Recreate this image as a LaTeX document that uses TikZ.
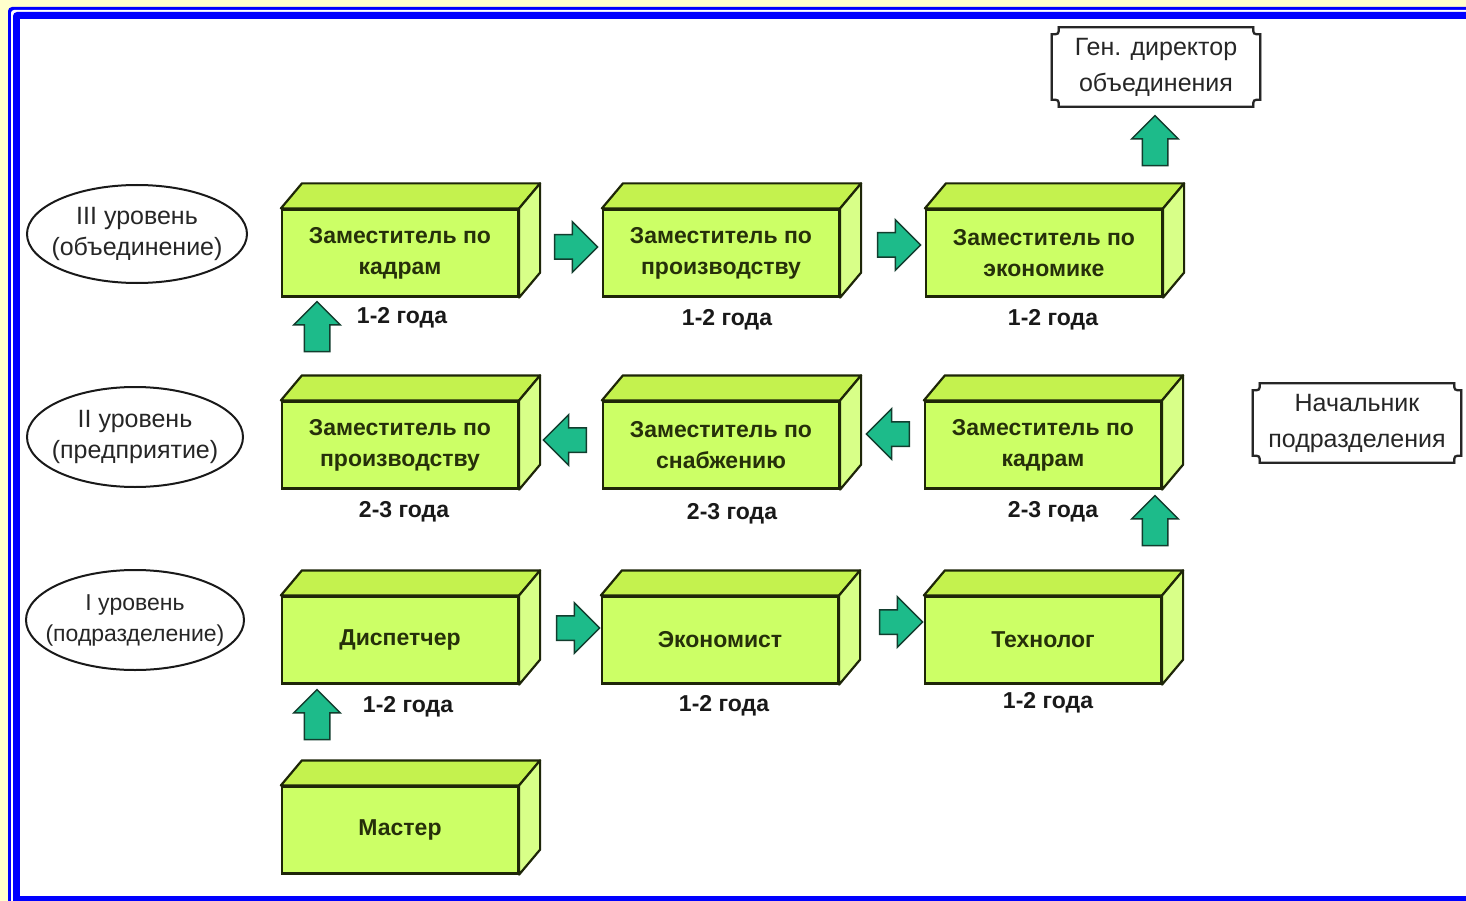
\documentclass[tikz,border=0pt]{standalone}
\usepackage{fontspec}
\setmainfont{Liberation Sans}
\usetikzlibrary{shapes.geometric,shapes.arrows}

\definecolor{bgyellow}{HTML}{FFFFCC}
\definecolor{frameblue}{HTML}{0000FF}
\definecolor{cubefront}{HTML}{CCFF66}
\definecolor{cubetop}{HTML}{C4F24E}
\definecolor{cubeside}{HTML}{D8FF88}
\definecolor{cubeedge}{HTML}{1E2608}
\definecolor{cubetext}{HTML}{26300A}
\definecolor{arrowfill}{HTML}{1DBB8A}
\definecolor{arrowline}{HTML}{123D2E}

\tikzset{
  cube/.style={draw=cubeedge, line width=2.2pt, fill=cubefront,
    minimum width=236pt, minimum height=87pt, align=center, inner sep=0pt,
    text=cubetext, font=\bfseries\fontsize{23}{31}\selectfont},
  period/.style={text=black!90, font=\bfseries\fontsize{23}{30}\selectfont, inner sep=0pt},
  level/.style={align=center, inner sep=0pt, text=black!85,
    font=\fontsize{25}{31}\selectfont},
  levelring/.style={draw=black!90, line width=2pt},
  post/.style={minimum width=208pt, minimum height=79pt, align=center, inner sep=0pt,
    text=black!85, font=\fontsize{25}{36}\selectfont},
  notchline/.style={draw=black!85, line width=2.2pt, fill=white},
  notchshadow/.style={draw=black!30, line width=2.5pt},
  blockarrow/.style={single arrow, draw=arrowline, fill=arrowfill, line width=1.5pt,
    inner xsep=0pt, inner ysep=11.5pt, minimum height=43pt,
    single arrow head extend=13pt, single arrow head indent=0pt},
  uparrow/.style={blockarrow, inner ysep=12pt, minimum height=50pt,
    single arrow head extend=10.5pt, rotate=90},
  leftarrow/.style={blockarrow, rotate=180}
}

% top and right faces of a box drawn behind its front face
\newcommand\cubefaces[1]{%
  \filldraw[draw=cubeedge, line width=2.2pt, fill=cubetop, line join=round]
    (#1.north west) -- ([shift={(21pt,25pt)}]#1.north west)
    -- ([shift={(21pt,25pt)}]#1.north east) -- (#1.north east) -- cycle;
  \filldraw[draw=cubeedge, line width=2.2pt, fill=cubeside, line join=round]
    (#1.north east) -- ([shift={(21pt,25pt)}]#1.north east)
    -- ([shift={(21pt,25pt)}]#1.south east) -- (#1.south east) -- cycle;}

% frame with concave corners round a text node
\newcommand\notchframe[2]{%
  \draw[#2] ([xshift=7pt]#1.north west) -- ([xshift=-7pt]#1.north east)
    .. controls ([xshift=-7pt,yshift=-7pt]#1.north east) .. ([yshift=-7pt]#1.north east)
    -- ([yshift=7pt]#1.south east)
    .. controls ([xshift=-7pt,yshift=7pt]#1.south east) .. ([xshift=-7pt]#1.south east)
    -- ([xshift=7pt]#1.south west)
    .. controls ([xshift=7pt,yshift=7pt]#1.south west) .. ([yshift=7pt]#1.south west)
    -- ([yshift=-7pt]#1.north west)
    .. controls ([xshift=7pt,yshift=-7pt]#1.north west) .. ([xshift=7pt]#1.north west)
    -- cycle;}

\begin{document}
\begin{tikzpicture}[x=1pt,y=-1pt]
\useasboundingbox (0,0) rectangle (1466,901);
\clip (0,0) rectangle (1466,901);

% double blue frame on a pale yellow ground
\fill[bgyellow] (0,0) rectangle (1466,901);
\fill[frameblue, rounded corners=4pt] (8,7) rectangle (1500,940);
\fill[white, rounded corners=3pt] (11,10) rectangle (1500,940);
\fill[frameblue, rounded corners=4pt] (13,12) rectangle (1500,940);
\fill[white] (20,19) rectangle (1500,896);

% levels
\node[level] (lev3) at (137,234) {III уровень\\(объединение)};
\draw[levelring] (lev3.center) ellipse [x radius=110, y radius=49];
\node[level] (lev2) at (135,437) {II уровень\\(предприятие)};
\draw[levelring] (lev2.center) ellipse [x radius=108, y radius=50];
\node[level, font=\fontsize{23}{31}\selectfont] (lev1) at (135,620) {I уровень\\(подразделение)};
\draw[levelring] (lev1.center) ellipse [x radius=109, y radius=50];

% level III
\node[cube] (a1) at (400,253) {Заместитель по\\кадрам};
\cubefaces{a1}
\node[cube] (a2) at (721,253) {Заместитель по\\производству};
\cubefaces{a2}
\node[cube] (a3) at (1044,253) {Заместитель по\\экономике};
\cubefaces{a3}

% level II
\node[cube] (b1) at (400,445) {Заместитель по\\производству};
\cubefaces{b1}
\node[cube] (b2) at (721,445) {Заместитель по\\снабжению};
\cubefaces{b2}
\node[cube] (b3) at (1043,445) {Заместитель по\\кадрам};
\cubefaces{b3}

% level I
\node[cube] (c1) at (400,640) {Диспетчер};
\cubefaces{c1}
\node[cube] (c2) at (720,640) {Экономист};
\cubefaces{c2}
\node[cube] (c3) at (1043,640) {Технолог};
\cubefaces{c3}

\node[cube] (d1) at (400,830) {Мастер};
\cubefaces{d1}

% periods of service
\node[period] (pa1) at (402,318) {1-2 года};
\node[period] (pa2) at (727,320) {1-2 года};
\node[period] (pa3) at (1053,320) {1-2 года};
\node[period] (pb1) at (404,512) {2-3 года};
\node[period] (pb2) at (732,514) {2-3 года};
\node[period] (pb3) at (1053,512) {2-3 года};
\node[period] (pc1) at (408,707) {1-2 года};
\node[period] (pc2) at (724,706) {1-2 года};
\node[period] (pc3) at (1048,703) {1-2 года};

% posts outside the levels
\node[post] (gen) at (1156,67) {};
\notchframe{gen}{notchshadow, yshift=-3pt}
\notchframe{gen}{notchline}
\node[post] at (gen) {Ген. директор\\объединения};
\node[post] (head) at (1357,423) {};
\notchframe{head}{notchshadow, yshift=-3pt}
\notchframe{head}{notchline}
\node[post] at (head) {Начальник\\подразделения};

% career steps
\node[blockarrow] (r1) at (570,247) {};
\node[blockarrow] (r2) at (893,245) {};
\node[leftarrow] (l1) at (571,440) {};
\node[leftarrow] (l2) at (894,434) {};
\node[blockarrow] (r3) at (572,628) {};
\node[blockarrow] (r4) at (895,622) {};
\node[uparrow] (u1) at (317,333) {};
\node[uparrow] (u2) at (317,721) {};
\node[uparrow] (u3) at (1155,527) {};
\node[uparrow] (u4) at (1155,147) {};
\end{tikzpicture}
\end{document}
